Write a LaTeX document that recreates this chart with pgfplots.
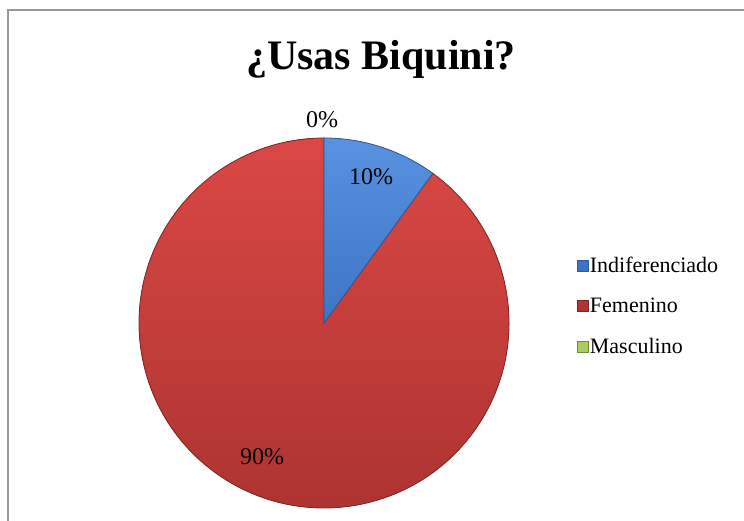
\documentclass[border=0pt]{standalone}
\usepackage{pgfplots}
\pgfplotsset{compat=1.18}
\usepackage{pgfplotstable}
\usepackage{fontspec}
\setmainfont{Liberation Serif}
\definecolor{blueT}{RGB}{88,146,224}
\definecolor{blueB}{RGB}{62,116,196}
\definecolor{blueE}{RGB}{50,90,160}
\definecolor{redT}{RGB}{218,72,68}
\definecolor{redB}{RGB}{170,50,48}
\definecolor{redE}{RGB}{130,38,36}
\definecolor{greenT}{RGB}{170,204,90}
\definecolor{greenE}{RGB}{110,140,60}
\pgfplotstableread{
label value
Indiferenciado 10
Femenino 90
Masculino 0
}\piedata
\pgfplotstablegetelem{0}{value}\of\piedata \pgfmathsetmacro\va{\pgfplotsretval}
\pgfplotstablegetelem{1}{value}\of\piedata \pgfmathsetmacro\vb{\pgfplotsretval}
\pgfplotstablegetelem{2}{value}\of\piedata \pgfmathsetmacro\vc{\pgfplotsretval}
\pgfmathsetmacro\aA{90}
\pgfmathsetmacro\aB{\aA-3.6*\va}
\pgfmathsetmacro\aC{\aB-3.6*\vb}
\pgfmathsetmacro\aD{\aC-3.6*\vc}
\begin{document}
\begin{tikzpicture}[x=1pt,y=1pt]
\path[use as bounding box] (0,0) rectangle (744,521);
\draw[gray!80, line width=1.6pt] (8,-30) rectangle (790,511);
\node[font=\fontsize{42}{42}\selectfont\bfseries, anchor=base] at (381,451) {¿Usas Biquini?};
\begin{axis}[at={(324pt,198pt)}, anchor=center, width=370pt, height=370pt,
  scale only axis, xmin=-1, xmax=1, ymin=-1, ymax=1, hide axis, clip=false,
  legend style={at={(1.184,0.546)}, anchor=west, draw=none, fill=none,
    inner sep=0pt, font=\fontsize{22}{22}\selectfont, row sep=22pt,
    nodes={inner sep=1pt},
    /tikz/every even column/.append style={column sep=3pt}},
  legend cell align=left]
\addlegendimage{legend image code/.code={\fill[blueB,draw=blueE,line width=0.6pt] (0pt,-5.5pt) rectangle (11pt,5.5pt);}}
\addlegendentry{Indiferenciado}
\addlegendimage{legend image code/.code={\fill[redB!90!redT,draw=redE,line width=0.6pt] (0pt,-5.5pt) rectangle (11pt,5.5pt);}}
\addlegendentry{Femenino}
\addlegendimage{legend image code/.code={\fill[greenT,draw=greenE,line width=0.6pt] (0pt,-5.5pt) rectangle (11pt,5.5pt);}}
\addlegendentry{Masculino}
\fill[top color=redT, bottom color=redB, draw=redE, line width=0.8pt]
  (axis cs:0,0) -- (axis cs:{cos(\aB)},{sin(\aB)}) arc[start angle=\aB, end angle=\aC, radius=185pt] -- cycle;
\fill[top color=blueT, bottom color=blueB, draw=blueE, line width=0.8pt]
  (axis cs:0,0) -- (axis cs:{cos(\aA)},{sin(\aA)}) arc[start angle=\aA, end angle=\aB, radius=185pt] -- cycle;
\end{axis}
\node[font=\fontsize{24}{24}\selectfont, anchor=base] at (322,393) {0\%};
\node[font=\fontsize{24}{24}\selectfont, anchor=base] at (371,336) {10\%};
\node[font=\fontsize{24}{24}\selectfont, anchor=base] at (262,56) {90\%};
\end{tikzpicture}
\end{document}
